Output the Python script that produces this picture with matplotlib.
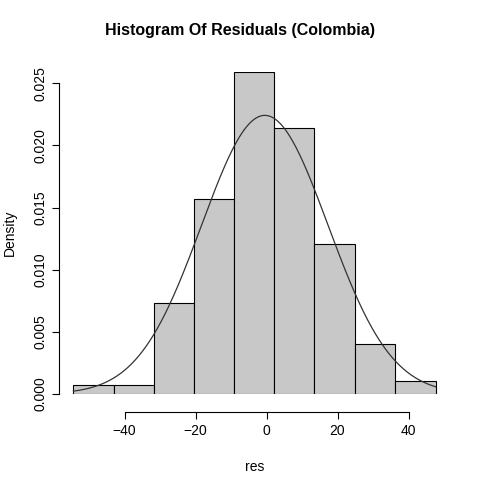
import numpy as np
import matplotlib
matplotlib.use("Agg")
import matplotlib.pyplot as plt

plt.rcParams["font.family"] = ["Liberation Sans", "DejaVu Sans"]

edges = [-54.4, -43.1, -31.8, -20.4, -9.1, 2.2, 13.5, 24.9, 36.2, 47.6]
density = [0.00072, 0.00072, 0.0073, 0.0157, 0.0259, 0.0214, 0.0121, 0.0040, 0.00105]
mu, sd = -0.5, 17.8

fig = plt.figure(figsize=(4.8, 4.8), dpi=100)
ax = fig.add_axes([59 / 480, 86 / 480, 391 / 480, 322 / 480])
widths = np.diff(edges)
ax.bar(edges[:-1], density, width=widths, align="edge", color="#c8c8c8",
       edgecolor="black", linewidth=0.8)
xs = np.linspace(edges[0], edges[-1], 300)
ax.plot(xs, np.exp(-0.5 * ((xs - mu) / sd) ** 2) / (sd * np.sqrt(2 * np.pi)),
        color="#333333", lw=0.9)

pad = 0.04 * (edges[-1] - edges[0])
ax.set_xlim(edges[0] - pad, edges[-1] + pad)
ax.set_ylim(0, max(density))
for s in ("top", "right"):
    ax.spines[s].set_visible(False)
ax.spines["left"].set_position(("outward", 0))
ax.spines["bottom"].set_position(("outward", 13))
ax.set_xticks([-40, -20, 0, 20, 40])
ax.set_yticks([0, 0.005, 0.01, 0.015, 0.02, 0.025])
ax.set_yticklabels(["0.000", "0.005", "0.010", "0.015", "0.020", "0.025"],
                   rotation=90, va="center")
ax.spines["bottom"].set_bounds(-40, 40)
ax.spines["left"].set_bounds(0, 0.025)
ax.tick_params(labelsize=10, length=5)
ax.set_xlabel("res", fontsize=10, labelpad=16)
ax.set_ylabel("Density", fontsize=10, labelpad=12)
fig.text(0.5, 1 - 31 / 480, "Histogram Of Residuals (Colombia)", ha="center",
         va="center", fontsize=11.5, weight="bold")
fig.savefig("out.png", dpi=100)
